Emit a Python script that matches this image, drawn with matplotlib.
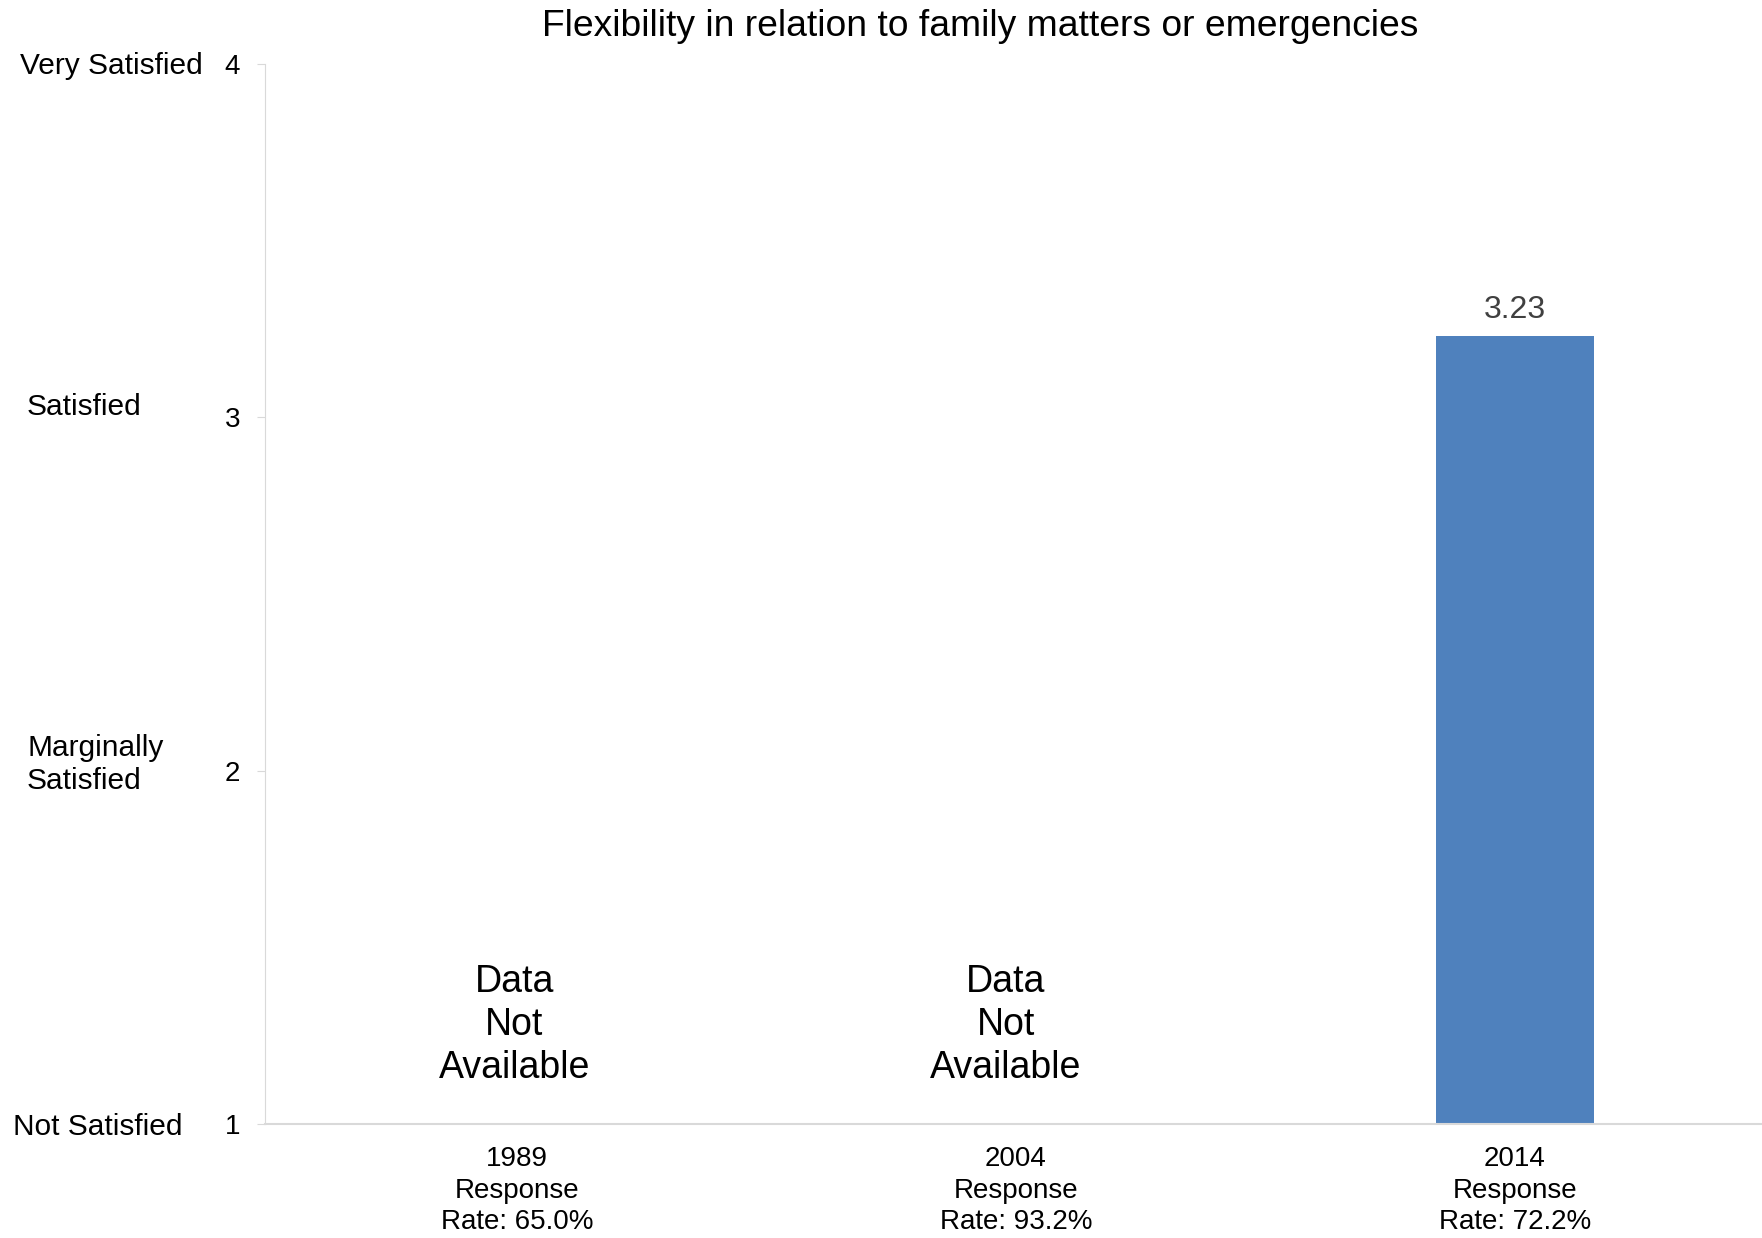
import matplotlib
matplotlib.use("Agg")
import matplotlib.pyplot as plt
import matplotlib.transforms as mtransforms

plt.rcParams['font.family'] = ['Liberation Sans', 'DejaVu Sans']

# chart data
years = ['1989', '2004', '2014']
response_rates = ['65.0%', '93.2%', '72.2%']
scores = [None, None, 3.23]
scale_values = [1, 2, 3, 4]
scale_names = ['Not Satisfied', 'Marginally\nSatisfied', 'Satisfied', 'Very Satisfied']

W, H = 1762, 1238
fig = plt.figure(figsize=(W / 100, H / 100), dpi=100)
ax = fig.add_axes([265 / W, 1 - 1124 / H, 1 - 265 / W, (1124 - 64) / H])

grey = '#D9D9D9'
na_shift = [-0.005, -0.02, 0.0]
for i, (yr, s) in enumerate(zip(years, scores)):
    if s is None:
        ax.text(i + na_shift[i], 1.28, 'Data\nNot\nAvailable', ha='center', va='center',
                fontsize=27, linespacing=1.24, color='black')
    else:
        ax.bar(i, s - 1, bottom=1, width=0.317, color='#4F81BD')
        ax.annotate(f'{s:.2f}', (i, s), xytext=(0, 8), textcoords='offset points',
                    ha='center', va='bottom', fontsize=23, color='#404040')

ax.set_xlim(-0.505, 2.495)
ax.set_ylim(1, 4)
ax.set_xticks(range(len(years)))
ax.set_xticklabels([f'{y}\nResponse\nRate: {r}' for y, r in zip(years, response_rates)],
                   fontsize=20, linespacing=1.28)
ax.set_yticks(scale_values)
ax.set_yticklabels([str(v) for v in scale_values], fontsize=20)
ax.tick_params(axis='x', length=0, pad=16)
ax.tick_params(axis='y', length=6, color=grey, pad=12)

for side in ['top', 'right']:
    ax.spines[side].set_visible(False)
ax.spines['left'].set_color(grey)
ax.spines['bottom'].set_color(grey)
ax.spines['bottom'].set_linewidth(1.5)

# satisfaction names to the left of the numeric ticks
trans = mtransforms.blended_transform_factory(fig.transFigure, ax.transData)
name_x = [13, 27, 27, 20]
name_dy = [-0.008, 0.018, 0.029, -0.006]
for v, name, nx, dy in zip(scale_values, scale_names, name_x, name_dy):
    ax.text(nx / W, v + dy, name, transform=trans, ha='left', va='center',
            fontsize=21.5, linespacing=1.25, color='black')

fig.text(980 / W, 1 - 26 / H, 'Flexibility in relation to family matters or emergencies',
         ha='center', va='center', fontsize=26.8)

fig.savefig('out.png', dpi=100)
